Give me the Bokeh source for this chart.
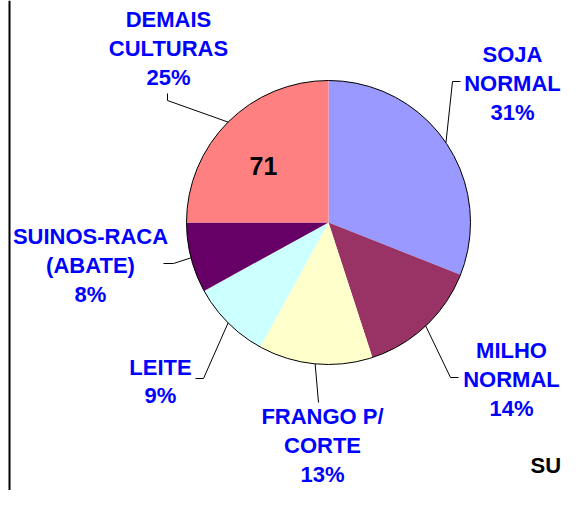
import math
from bokeh.plotting import figure
from bokeh.models import Range1d, ColumnDataSource
from bokeh.core.properties import value
from bokeh.embed import file_html
from bokeh.resources import INLINE

# ---- data ----
categories = ["SOJA NORMAL", "MILHO NORMAL", "FRANGO P/ CORTE", "LEITE",
              "SUINOS-RACA (ABATE)", "DEMAIS CULTURAS"]
label_lines = ["SOJA\nNORMAL", "MILHO\nNORMAL", "FRANGO P/\nCORTE", "LEITE",
               "SUINOS-RACA\n(ABATE)", "DEMAIS\nCULTURAS"]
percents = [31, 14, 13, 9, 8, 25]
colors = ["#9999FF", "#993366", "#FFFFCC", "#CCFFFF", "#660066", "#FF8080"]
inner_value = "71"

# ---- layout (reference pixel coords, y downwards) ----
W, H = 562, 490
CX, CYr, R = 328, 222, 142
label_pos = [(512, 83), (511, 379), (322, 445), (160, 381), (90, 265), (168, 48)]
elbows = [[(452, 81), (460, 81)],
          [(450, 377), (458, 377)],
          [(318, 402)],
          [(203, 378), (195, 378)],
          [(173, 263), (163, 263)],
          [(167, 100), (167, 93)]]

def Y(y):
    return H - y

p = figure(width=W, height=H, output_backend="svg", toolbar_location=None,
           x_range=Range1d(0, W), y_range=Range1d(0, H),
           min_border=0)
p.axis.visible = False
p.grid.visible = False
p.outline_line_color = None
p.background_fill_color = "white"

total = sum(percents)
starts, ends, mids = [], [], []
cum = 0.0
for v in percents:
    a0 = cum / total
    cum += v
    a1 = cum / total
    starts.append(math.pi / 2 - 2 * math.pi * a1)
    ends.append(math.pi / 2 - 2 * math.pi * a0)
    mids.append(2 * math.pi * (a0 + a1) / 2)

src = ColumnDataSource(dict(start=starts, end=ends, color=colors))
p.wedge(x=CX, y=Y(CYr), radius=R, start_angle="start", end_angle="end",
        fill_color="color", line_color=None, source=src)
p.circle(x=CX, y=Y(CYr), radius=R, fill_color=None, line_color="black", line_width=1)

# leader lines
xs, ys = [], []
for m, el in zip(mids, elbows):
    ex = CX + R * math.sin(m)
    ey = CYr - R * math.cos(m)
    pts = [(ex, ey)] + el
    xs.append([pt[0] for pt in pts])
    ys.append([Y(pt[1]) for pt in pts])
p.multi_line(xs=xs, ys=ys, line_color="black", line_width=1)

# labels
texts = [f"{l}\n{v}%" for l, v in zip(label_lines, percents)]
lsrc = ColumnDataSource(dict(x=[q[0] for q in label_pos], y=[Y(q[1]) for q in label_pos], t=texts))
p.text(x="x", y="y", text="t", source=lsrc, text_color="#0000FF",
       text_font=value("Liberation Sans"), text_font_style="bold",
       text_font_size="22px", text_align="center", text_baseline="middle",
       text_line_height=1.15)

# value inside slice
p.text(x=[263], y=[Y(165)], text=[inner_value], text_color="black",
       text_font=value("Liberation Sans"), text_font_style="bold",
       text_font_size="25px", text_align="center", text_baseline="middle")

# partially visible text at bottom right
p.text(x=[530], y=[Y(465)], text=["SU"], text_color="black",
       text_font=value("Liberation Sans"), text_font_style="bold",
       text_font_size="22px", text_align="left", text_baseline="middle")

# left frame line
p.segment(x0=[9], y0=[Y(506)], x1=[9], y1=[Y(0)], line_color="black", line_width=2)

open("out.html", "w").write(file_html(p, INLINE))
